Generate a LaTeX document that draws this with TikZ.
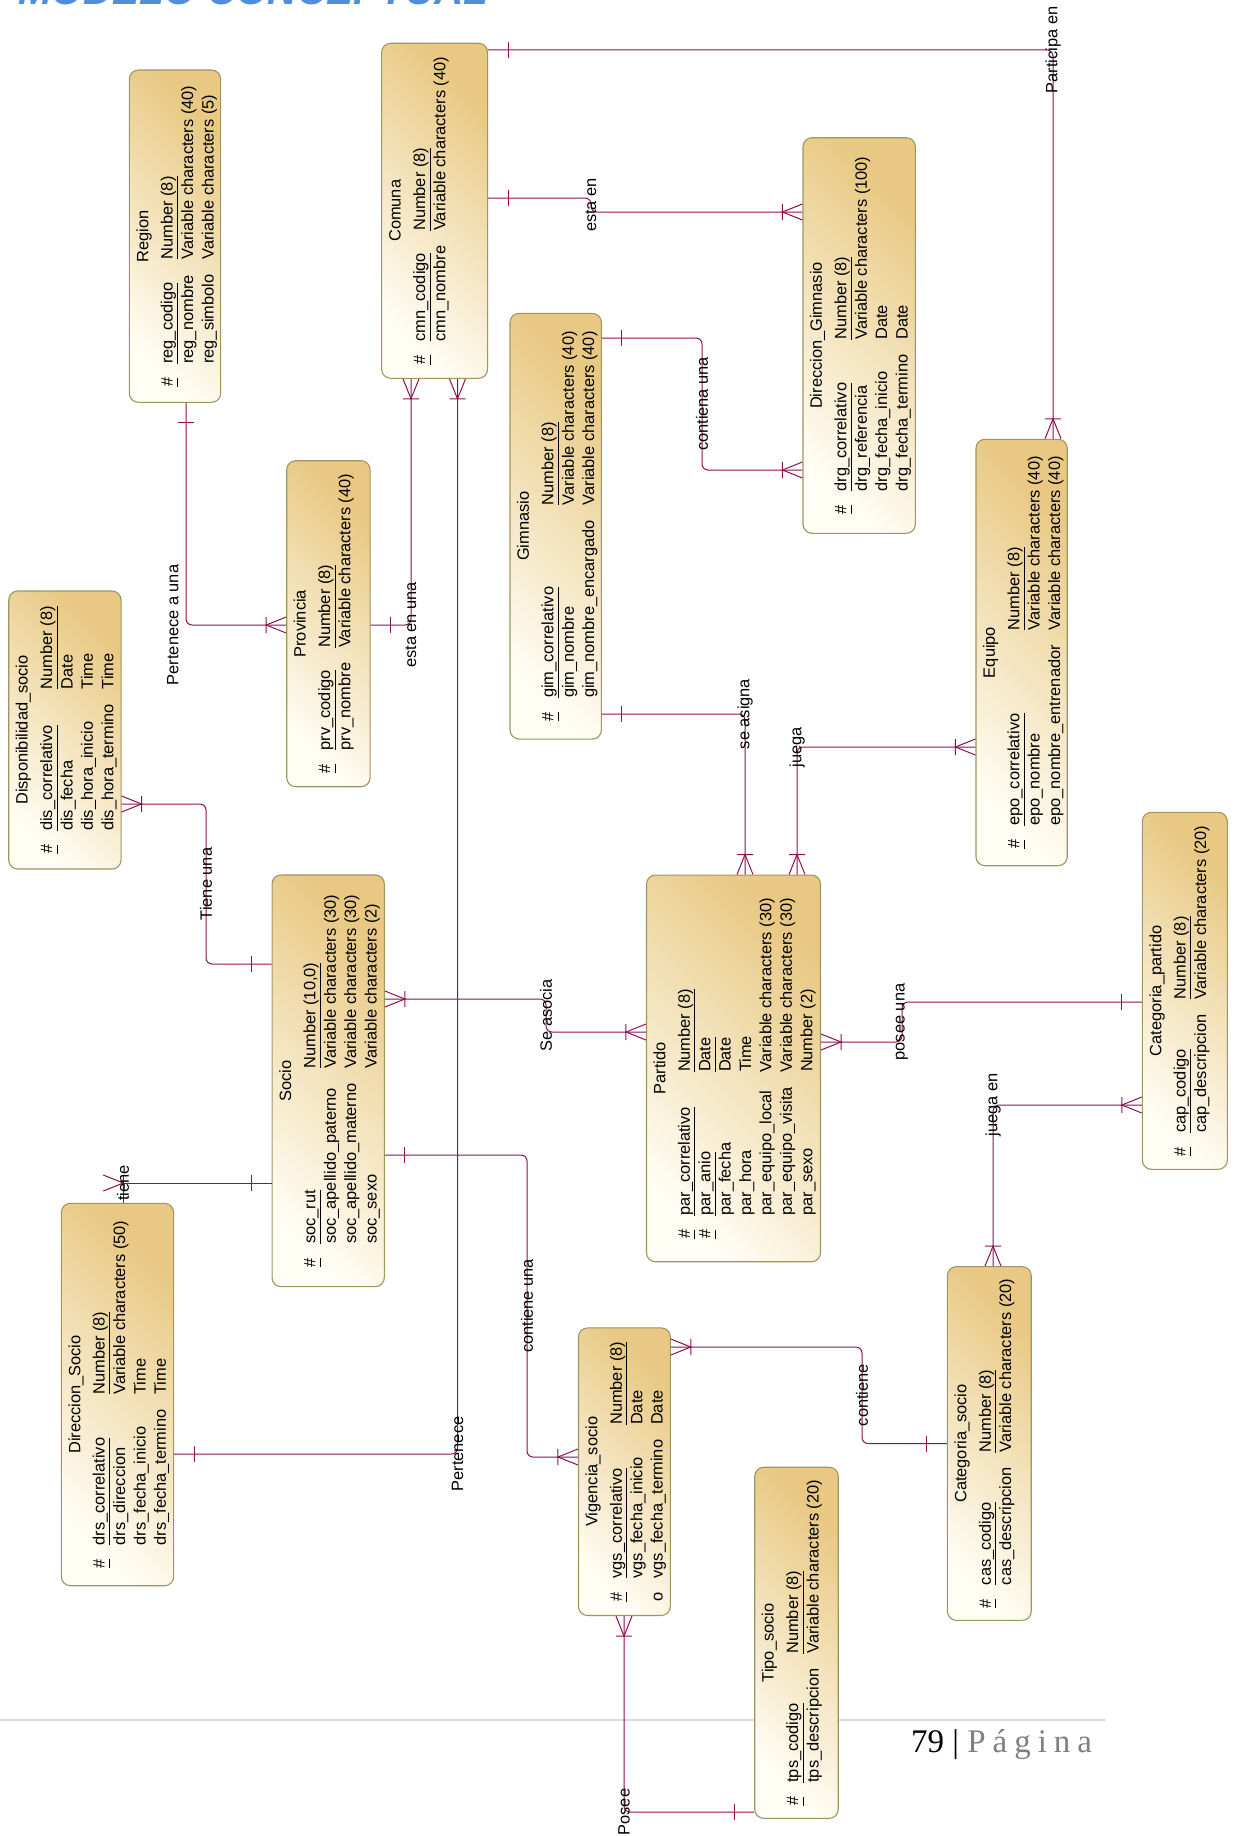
\documentclass[tikz,border=0pt]{standalone}
\usepackage{fontspec}
\setmainfont{Liberation Sans}
\newfontfamily\pagfont{Liberation Serif}
\usetikzlibrary{decorations.markings}

\definecolor{relcol}{RGB}{142,16,82}
\definecolor{entdark}{RGB}{232,200,130}
\definecolor{entlight}{RGB}{255,253,244}
\definecolor{entline}{RGB}{158,150,96}
\definecolor{titleblue}{RGB}{80,143,216}
\definecolor{pggray}{RGB}{128,128,128}
\definecolor{footgray}{RGB}{217,217,217}

\newcommand{\entfont}{\fontsize{16.4}{20.4}\selectfont}
\newcommand{\idu}[1]{\underline{#1\vphantom{gy()}}}
% box: width, height (reading frame), title, rows
\newcommand{\ent}[4]{%
  \begin{minipage}[c][#2][t]{#1}\vspace{4.7pt}\centering
  \begin{tabular}{@{}l@{\hspace{14pt}}l@{\hspace{15pt}}l@{}}
  \multicolumn{3}{@{}c@{}}{#3}\\[4pt]
  #4
  \end{tabular}\end{minipage}}

\tikzset{
  entity/.style={rotate=90, draw=entline, line width=1.1pt, rounded corners=9pt, inner sep=0pt,
    top color=entlight, bottom color=entdark, shading angle=135, font=\entfont},
  rel/.style={draw=relcol, line width=1pt, rounded corners=6pt},
  lbl/.style={rotate=90, font=\entfont, inner sep=1pt},
  fromone/.style={postaction={decorate,decoration={markings,mark=at position 20pt with
    {\draw[relcol,line width=1pt,sharp corners] (0pt,-8pt) -- (0pt,8pt);}}}},
  frommany/.style={postaction={decorate,decoration={markings,mark=at position 20pt with
    {\draw[relcol,line width=1pt,sharp corners] (0pt,-8pt) -- (0pt,8pt) (-20pt,-8pt) -- (0pt,0pt) -- (-20pt,8pt);}}}},
  toone/.style={postaction={decorate,decoration={markings,mark=at position -20pt with
    {\draw[relcol,line width=1pt,sharp corners] (0pt,-8pt) -- (0pt,8pt);}}}},
  tomany/.style={postaction={decorate,decoration={markings,mark=at position -20pt with
    {\draw[relcol,line width=1pt,sharp corners] (0pt,-8pt) -- (0pt,8pt) (20pt,-8pt) -- (0pt,0pt) -- (20pt,8pt);}}}}
}

\begin{document}
\begin{tikzpicture}[x=1pt,y=-1pt]
\useasboundingbox (0,0) rectangle (1241,1836);
\clip (0,0) rectangle (1241,1836);

\node[anchor=base west, inner sep=0pt, text=titleblue, font=\fontsize{40.5}{40}\selectfont\bfseries\itshape] (titulo) at (18,5) {MODELO CONCEPTUAL};
\draw[footgray, line width=1.5pt] (0,1720) -- (1105.5,1720);
\node[anchor=base west, inner sep=0pt, font=\pagfont\fontsize{33}{33}\selectfont] (pagina) at (911,1752.7)
  {79 | \textcolor{pggray}{P\hspace{7pt}á\hspace{7pt}g\hspace{7pt}i\hspace{7pt}n\hspace{7pt}a}};

% entidades
\node[entity] (region) at (175,236.2) {\ent{332.3pt}{91.3pt}{Region}{%
  \idu{\#} & \idu{reg\_codigo} & \idu{Number (8)}\\
  * & reg\_nombre & Variable characters (40)\\
  * & reg\_simbolo & Variable characters (5)}};
\node[entity] (comuna) at (434.6,210.8) {\ent{335pt}{105.9pt}{Comuna}{%
  \idu{\#} & \idu{cmn\_codigo} & \idu{Number (8)}\\
  * & cmn\_nombre & Variable characters (40)}};
\node[entity] (gimnasio) at (555.7,526.2) {\ent{425.7pt}{91.4pt}{Gimnasio}{%
  \idu{\#} & \idu{gim\_correlativo} & \idu{Number (8)}\\
  * & gim\_nombre & Variable characters (40)\\
  * & gim\_nombre\_encargado & Variable characters (40)}};
\node[entity] (dirgim) at (859.2,335.5) {\ent{395.6pt}{112.4pt}{Direccion\_Gimnasio}{%
  \idu{\#} & \idu{drg\_correlativo} & \idu{Number (8)}\\
  * & drg\_referencia & Variable characters (100)\\
  * & drg\_fecha\_inicio & Date\\
  * & drg\_fecha\_termino & Date}};
\node[entity] (equipo) at (1021.6,652.5) {\ent{426.4pt}{91.3pt}{Equipo}{%
  \idu{\#} & \idu{epo\_correlativo} & \idu{Number (8)}\\
  * & epo\_nombre & Variable characters (40)\\
  * & epo\_nombre\_entrenador & Variable characters (40)}};
\node[entity] (provincia) at (328.4,623.7) {\ent{326pt}{83.4pt}{Provincia}{%
  \idu{\#} & \idu{prv\_codigo} & \idu{Number (8)}\\
  * & prv\_nombre & Variable characters (40)}};
\node[entity] (dispon) at (64.9,730) {\ent{278pt}{112.3pt}{Disponibilidad\_socio}{%
  \idu{\#} & \idu{dis\_correlativo} & \idu{Number (8)}\\
  * & dis\_fecha & Date\\
  * & dis\_hora\_inicio & Time\\
  * & dis\_hora\_termino & Time}};
\node[entity] (socio) at (328.2,1080.8) {\ent{411.7pt}{112.3pt}{Socio}{%
  \idu{\#} & \idu{soc\_rut} & \idu{Number (10,0)}\\
  * & soc\_apellido\_paterno & Variable characters (30)\\
  * & soc\_apellido\_materno & Variable characters (30)\\
  * & soc\_sexo & Variable characters (2)}};
\node[entity] (partido) at (733.5,1068.4) {\ent{386.7pt}{174pt}{Partido}{%
  \idu{\#} & \idu{par\_correlativo} & \idu{Number (8)}\\
  \idu{\#} & \idu{par\_anio} & \idu{Date}\\
  * & par\_fecha & Date\\
  * & par\_hora & Time\\
  * & par\_equipo\_local & Variable characters (30)\\
  * & par\_equipo\_visita & Variable characters (30)\\
  * & par\_sexo & Number (2)}};
\node[entity] (catpartido) at (1184.8,990.8) {\ent{357pt}{85pt}{Categoria\_partido}{%
  \idu{\#} & \idu{cap\_codigo} & \idu{Number (8)}\\
  * & cap\_descripcion & Variable characters (20)}};
\node[entity] (catsocio) at (989.3,1443.5) {\ent{353.7pt}{83.8pt}{Categoria\_socio}{%
  \idu{\#} & \idu{cas\_codigo} & \idu{Number (8)}\\
  * & cas\_descripcion & Variable characters (20)}};
\node[entity] (dirsocio) at (117.5,1394.5) {\ent{382.4pt}{112.3pt}{Direccion\_Socio}{%
  \idu{\#} & \idu{drs\_correlativo} & \idu{Number (8)}\\
  * & drs\_direccion & Variable characters (50)\\
  * & drs\_fecha\_inicio & Time\\
  * & drs\_fecha\_termino & Time}};
\node[entity] (vigencia) at (624.4,1471.7) {\ent{287.6pt}{91.8pt}{Vigencia\_socio}{%
  \idu{\#} & \idu{vgs\_correlativo} & \idu{Number (8)}\\
  * & vgs\_fecha\_inicio & Date\\
  o & vgs\_fecha\_termino & Date}};
\node[entity] (tiposocio) at (796.5,1642.8) {\ent{351.1pt}{83.5pt}{Tipo\_socio}{%
  \idu{\#} & \idu{tps\_codigo} & \idu{Number (8)}\\
  * & tps\_descripcion & Variable characters (20)}};

% relaciones
\draw[rel,fromone,tomany] (comuna.south |- 0,50) -| node[lbl] (lparticipa) {Participa en} (equipo.east -| 1053,0);
\draw[rel,fromone,tomany] (comuna.south |- 0,198) -- (591,198) -- node[lbl] (lesta) {esta en} (591,212) -- (dirgim.north |- 0,212);
\draw[rel,frommany,toone] (comuna.west -| 411,0) |- node[lbl] (lestauna) {esta en una} (provincia.south |- 0,625);
\draw[rel,frommany,toone] (comuna.west -| 457.5,0) |- node[lbl] (lpertenece) {Pertenece} (dirsocio.south |- 0,1454);
\draw[rel,fromone,tomany] (region.west -| 186,0) |- node[lbl,anchor=south,inner sep=7pt] (lpertuna) {Pertenece a una} (provincia.north |- 0,625);
\draw[rel,frommany,toone] (dispon.south |- 0,804) -| (206,884) node[lbl] (ltieneuna) {Tiene una} |- (socio.north |- 0,964);
\draw[rel,sharp corners,fromone,tomany] (socio.north |- 0,1183) -| node[lbl] (ltiene) {tiene} (dirsocio.east -| 123,0);
\draw[rel,frommany,tomany] (socio.south |- 0,999) -- (546,999) -- node[lbl] (lseasocia) {Se asocia} (546,1032) -- (partido.north |- 0,1032);
\draw[rel,fromone,tomany] (socio.south |- 0,1155) -| (527,1306) node[lbl] (lcontieneuna) {contiene una} |- (vigencia.north |- 0,1457);
\draw[rel,fromone,tomany] (gimnasio.south |- 0,338) -| (702,404) node[lbl] (lcontiena) {contiena una} |- (dirgim.north |- 0,470);
\draw[rel,fromone,tomany] (gimnasio.south |- 0,714) -| node[lbl] (lseasigna) {se asigna} (partido.east -| 745,0);
\draw[rel,frommany,tomany] (equipo.north |- 0,747) -| node[lbl] (ljuega) {juega} (partido.east -| 797,0);
\draw[rel,frommany,toone] (partido.south |- 0,1042) -- (902,1042) -- node[lbl] (lposeeuna) {posee una} (902,1002) -- (catpartido.north |- 0,1002);
\draw[rel,frommany,tomany] (catpartido.north |- 0,1105) -| node[lbl] (ljuegaen) {juega en} (catsocio.east -| 993,0);
\draw[rel,frommany,toone] (vigencia.south |- 0,1347) -| (862,1395) node[lbl] (lcontiene) {contiene} |- (catsocio.north |- 0,1443.5);
\draw[rel,frommany,toone] (vigencia.west -| 624,0) |- node[lbl] (lposee) {Posee} (tiposocio.north |- 0,1812);
\end{tikzpicture}
\end{document}
